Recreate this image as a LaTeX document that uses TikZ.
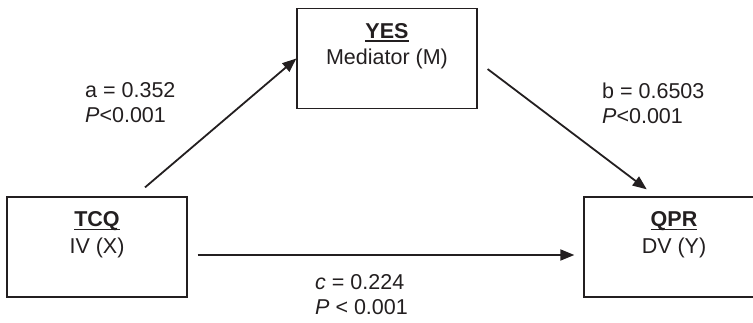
\documentclass[tikz,border=0pt]{standalone}
\usepackage{fontspec}
\setmainfont{Liberation Sans}
\usetikzlibrary{arrows.meta}
\definecolor{ink}{RGB}{35,31,32}
\newcommand{\headul}[1]{\setbox0\hbox{\textbf{#1}}\rlap{\rule[-3.8pt]{\wd0}{1.8pt}}\box0}

\begin{document}
\begin{tikzpicture}[x=1pt,y=1pt,color=ink]
\tikzstyle{box}=[draw, line width=1.3pt, minimum width=180pt, minimum height=100pt, inner sep=0pt]
\tikzstyle{boxtext}=[align=center, anchor=north, inner sep=0pt, font=\fontsize{21.5}{26.5}\selectfont]
\tikzstyle{coef}=[align=left, anchor=north west, inner sep=0pt, font=\fontsize{21.5}{25}\selectfont]
\tikzstyle{link}=[line width=1.8pt, -{Triangle[length=14pt,width=11pt]}]

\useasboundingbox (0,0) rectangle (753,322);

\node[box] (tcq) at (97,75) {};
\node[box] (yes) at (387,263.5) {};
\node[box] (qpr) at (674,75) {};

\node[boxtext] (tcqtext) at ([yshift=-15pt]tcq.north) {\headul{TCQ}\\IV (X)};
\node[boxtext] (yestext) at ([yshift=-15pt]yes.north) {\headul{YES}\\Mediator (M)};
\node[boxtext] (qprtext) at ([yshift=-15pt]qpr.north) {\headul{QPR}\\DV (Y)};

\draw[link, shorten <=13.8pt] ([xshift=37.5pt]tcq.north) -- (yes.west);
\draw[link, shorten <=12.5pt, shorten >=11.6pt] ([yshift=-3pt]yes.east) -- ([xshift=-18pt]qpr.north);
\draw[link, shorten <=10pt, shorten >=9pt] ([yshift=-8pt]tcq.east) -- ([yshift=-8pt]qpr.west);

\node[coef] (acoef) at (85,239.5) {a = 0.352\\\textit{P}<0.001};
\node[coef] (bcoef) at (602,239.5) {b = 0.6503\\\textit{P}<0.001};
\node[coef] (ccoef) at (315,47.4) {\textit{c} = 0.224\\\textit{P} < 0.001};

\end{tikzpicture}
\end{document}
